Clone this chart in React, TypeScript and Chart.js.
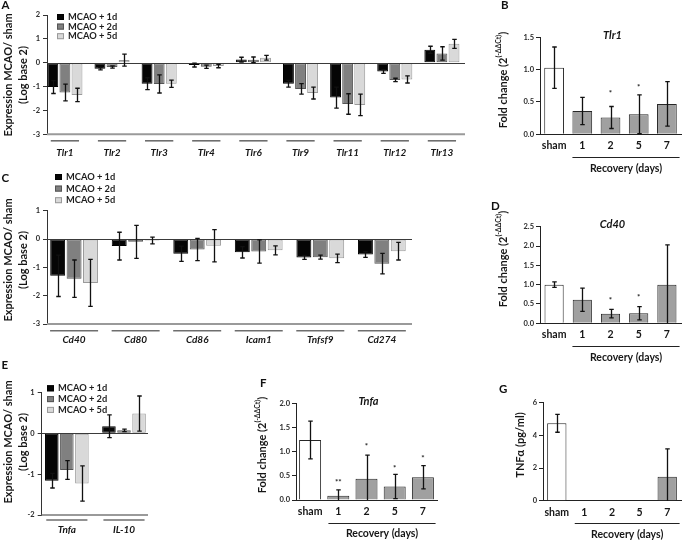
import React, { useEffect, useRef } from "react";
import { Chart, registerables } from "chart.js";
Chart.register(...registerables);

const FONT = "Lato, 'Open Sans', Arial, sans-serif";
const PAGE_W = 684;
const PAGE_H = 540;

// ---------- Panel A: TLR expression (log2 MCAO/sham) ----------
const tlrGenes = ["Tlr1", "Tlr2", "Tlr3", "Tlr4", "Tlr6", "Tlr9", "Tlr11", "Tlr12", "Tlr13"];
const tlr1d = [-1.02, -0.25, -0.88, -0.1, 0.13, -0.88, -1.46, -0.37, 0.54];
const tlr1dErr = [0.27, 0.05, 0.25, 0.08, 0.1, 0.14, 0.44, 0.08, 0.15];
const tlr2d = [-1.25, -0.18, -0.89, -0.17, 0.12, -1.1, -1.73, -0.72, 0.39];
const tlr2dErr = [0.35, 0.05, 0.38, 0.07, 0.12, 0.22, 0.43, 0.07, 0.28];
const tlr5d = [-1.35, 0.11, -0.88, -0.14, 0.21, -1.27, -1.77, -0.7, 0.79];
const tlr5dErr = [0.28, 0.25, 0.15, 0.07, 0.1, 0.25, 0.45, 0.15, 0.19];

// ---------- Panel C: co-stimulatory genes ----------
const cdGenes = ["Cd40", "Cd80", "Cd86", "Icam1", "Tnfsf9", "Cd274"];
const cd1d = [-1.3, -0.25, -0.52, -0.47, -0.65, -0.55];
const cd1dErr = [0.73, 0.49, 0.27, 0.2, 0.07, 0.1];
const cd2d = [-1.4, -0.1, -0.37, -0.44, -0.64, -0.87];
const cd2dErr = [0.66, 0.58, 0.39, 0.41, 0.07, 0.36];
const cd5d = [-1.55, -0.05, -0.24, -0.4, -0.68, -0.43];
const cd5dErr = [0.83, 0.12, 0.57, 0.16, 0.15, 0.31];

// ---------- Panel E: cytokines ----------
const cytoGenes = ["Tnfa", "IL-10"];
const cyto1d = [-1.16, 0.17];
const cyto1dErr = [0.18, 0.28];
const cyto2d = [-0.9, 0.07];
const cyto2dErr = [0.23, 0.03];
const cyto5d = [-1.23, 0.48];
const cyto5dErr = [0.43, 0.43];

const seriesLabels = ["MCAO + 1d", "MCAO + 2d", "MCAO + 5d"];

// ---------- Fold-change panels ----------
const recoveryDays = ["sham", "1", "2", "5", "7"];

const tlr1Fold = [1.03, 0.36, 0.26, 0.31, 0.47];
const tlr1FoldErr = [0.32, 0.21, 0.17, 0.3, 0.345];
const tlr1Stars = ["", "", "*", "*", ""];
const tlr1StarY = [0, 0, 0.67, 0.76, 0];

const cd40Fold = [1.0, 0.61, 0.25, 0.26, 1.0];
const cd40FoldErr = [0.07, 0.3, 0.11, 0.17, 1.03];
const cd40Stars = ["", "", "*", "*", ""];
const cd40StarY = [0, 0, 0.64, 0.73, 0];

const tnfaFold = [1.24, 0.09, 0.44, 0.28, 0.47];
const tnfaFoldErr = [0.39, 0.12, 0.49, 0.25, 0.24];
const tnfaStars = ["", "**", "*", "*", "*"];
const tnfaStarY = [0, 0.41, 1.14, 0.7, 0.91];

const tnfProtein = [4.74, 0, 0, 0, 1.47];
const tnfProteinErr = [0.55, 0, 0, 0, 1.7];

// ---------- helpers ----------
type Box = { L: number; R: number; T: number; B: number };
type Seg = { t: string; sup?: boolean };

function drawRotated(ctx: CanvasRenderingContext2D, x: number, y: number, segs: Seg[], size: number) {
  ctx.save();
  ctx.translate(x, y);
  ctx.rotate(-Math.PI / 2);
  const main = `bold ${size}px ${FONT}`;
  const sub = `bold ${size * 0.62}px ${FONT}`;
  let total = 0;
  for (const s of segs) {
    ctx.font = s.sup ? sub : main;
    total += ctx.measureText(s.t).width;
  }
  let cx = -total / 2;
  ctx.textBaseline = "middle";
  ctx.textAlign = "left";
  ctx.fillStyle = "#161616";
  for (const s of segs) {
    ctx.font = s.sup ? sub : main;
    ctx.fillText(s.t, cx, s.sup ? -size * 0.38 : 0);
    cx += ctx.measureText(s.t).width;
  }
  ctx.restore();
}

function drawLetter(ctx: CanvasRenderingContext2D, t: string, x: number, y: number) {
  ctx.save();
  ctx.font = `bold 11.5px ${FONT}`;
  ctx.fillStyle = "#111";
  ctx.textAlign = "left";
  ctx.textBaseline = "alphabetic";
  ctx.fillText(t, x, y);
  ctx.restore();
}

const errorBarPlugin = {
  id: "errorBars",
  afterDatasetsDraw(chart: any) {
    const ctx = chart.ctx as CanvasRenderingContext2D;
    const yScale = chart.scales.y;
    const cap = 4.5;
    chart.data.datasets.forEach((ds: any, di: number) => {
      const errs: number[] | undefined = ds.errors;
      if (!errs) return;
      const meta = chart.getDatasetMeta(di);
      meta.data.forEach((bar: any, i: number) => {
        const e = errs[i];
        if (!e) return;
        const raw = ds.data[i];
        const v = typeof raw === "object" ? raw.y : raw;
        const lo = Math.max(v - e, yScale.min);
        const hi = Math.min(v + e, yScale.max);
        const x = Math.round(bar.x) + 0.5;
        const y1 = yScale.getPixelForValue(hi);
        const y2 = yScale.getPixelForValue(lo);
        ctx.save();
        ctx.strokeStyle = "#111";
        ctx.lineWidth = 1.3;
        ctx.beginPath();
        ctx.moveTo(x, y1);
        ctx.lineTo(x, y2);
        ctx.moveTo(x - cap / 2, y1);
        ctx.lineTo(x + cap / 2, y1);
        if (v - e > yScale.min) {
          ctx.moveTo(x - cap / 2, y2);
          ctx.lineTo(x + cap / 2, y2);
        }
        ctx.stroke();
        ctx.restore();
      });
      if (ds.stars) {
        meta.data.forEach((bar: any, i: number) => {
          const s = ds.stars[i];
          if (!s) return;
          ctx.save();
          ctx.font = `bold 8px ${FONT}`;
          ctx.fillStyle = "#222";
          ctx.textAlign = "center";
          ctx.textBaseline = "middle";
          ctx.fillText(s, bar.x, yScale.getPixelForValue(ds.starY[i]) + 2);
          ctx.restore();
        });
      }
    });
  },
};

type GroupedCfg = {
  box: Box;
  labels: string[];
  series: { data: number[]; err: number[] }[];
  yMin: number;
  yMax: number;
  xMin: number;
  xMax: number;
  catPct: number;
  barPct: number;
  segFrac: number;
  labelDy: number;
  segDy: number;
  legend: { x: number; y: number; dy: number };
  ytitle: { x1: number; x2: number; y: number };
  letter: { t: string; x: number; y: number };
};

const groupFill = ["#050505", "#808080", "#d9d9d9"];
const groupBorder = ["#000000", "#555555", "#9a9a9a"];

function groupedConfig(c: GroupedCfg): any {
  const yW = 30;
  const deco = {
    id: "decoGrouped",
    beforeDatasetsDraw(chart: any) {
      const ctx = chart.ctx as CanvasRenderingContext2D;
      const a = chart.chartArea;
      ctx.save();
      ctx.strokeStyle = "#9a9a9a";
      ctx.lineWidth = 2;
      ctx.beginPath();
      ctx.moveTo(a.left, a.bottom);
      ctx.lineTo(a.right, a.bottom);
      ctx.stroke();
      ctx.restore();
    },
    afterDatasetsDraw(chart: any) {
      const ctx = chart.ctx as CanvasRenderingContext2D;
      const a = chart.chartArea;
      const y = chart.scales.y;
      const y0 = y.getPixelForValue(0);
      ctx.save();
      ctx.strokeStyle = "#3a3a3a";
      ctx.lineWidth = 1;
      ctx.beginPath();
      ctx.moveTo(a.left, Math.round(y0) + 0.5);
      ctx.lineTo(a.right, Math.round(y0) + 0.5);
      ctx.stroke();
      ctx.restore();
    },
    afterDraw(chart: any) {
      const ctx = chart.ctx as CanvasRenderingContext2D;
      const a = chart.chartArea;
      const x = chart.scales.x;
      const unit = x.getPixelForValue(1) - x.getPixelForValue(0);
      ctx.save();
      c.labels.forEach((lab, i) => {
        const cx = x.getPixelForValue(i);
        ctx.strokeStyle = "#6e6e6e";
        ctx.lineWidth = 1.6;
        ctx.beginPath();
        ctx.moveTo(cx - (unit * c.segFrac) / 2, a.bottom + c.segDy);
        ctx.lineTo(cx + (unit * c.segFrac) / 2, a.bottom + c.segDy);
        ctx.stroke();
        ctx.font = `italic bold 10px ${FONT}`;
        ctx.fillStyle = "#161616";
        ctx.textAlign = "center";
        ctx.textBaseline = "middle";
        ctx.fillText(lab, cx, a.bottom + c.labelDy);
      });
      chart.data.datasets.forEach((ds: any, i: number) => {
        const ly = c.legend.y + i * c.legend.dy;
        ctx.fillStyle = ds.backgroundColor;
        ctx.strokeStyle = ds.borderColor;
        ctx.lineWidth = 1;
        ctx.fillRect(c.legend.x, ly - 3, 7, 6);
        ctx.strokeRect(c.legend.x + 0.5, ly - 2.5, 6, 5);
        ctx.font = `bold 9.3px ${FONT}`;
        ctx.fillStyle = "#1e1e1e";
        ctx.textAlign = "left";
        ctx.textBaseline = "middle";
        ctx.fillText(ds.label, c.legend.x + 11, ly);
      });
      ctx.restore();
      drawRotated(ctx, c.ytitle.x1, c.ytitle.y, [{ t: "Expression MCAO/ sham" }], 11);
      drawRotated(ctx, c.ytitle.x2, c.ytitle.y, [{ t: "(Log base 2)" }], 11);
      drawLetter(ctx, c.letter.t, c.letter.x, c.letter.y);
    },
  };
  return {
    type: "bar",
    data: {
      datasets: c.series.map((s, i) => ({
        label: seriesLabels[i],
        data: s.data.map((v, k) => ({ x: k, y: v })),
        errors: s.err,
        backgroundColor: groupFill[i],
        borderColor: groupBorder[i],
        borderWidth: 1,
        borderSkipped: false,
        categoryPercentage: c.catPct,
        barPercentage: c.barPct,
      })),
    },
    options: {
      responsive: false,
      animation: false,
      devicePixelRatio: 1,
      events: [],
      layout: {
        autoPadding: false,
        padding: { left: c.box.L - yW, right: PAGE_W - c.box.R, top: c.box.T, bottom: PAGE_H - c.box.B },
      },
      plugins: { legend: { display: false }, tooltip: { enabled: false }, title: { display: false } },
      scales: {
        x: {
          type: "linear",
          display: false,
          offset: false,
          min: c.xMin,
          max: c.xMax,
          grid: { offset: false },
          ticks: { stepSize: 1, includeBounds: false },
        },
        y: {
          min: c.yMin,
          max: c.yMax,
          afterFit: (s: any) => {
            s.width = yW;
          },
          border: { display: true, color: "#333", width: 1 },
          grid: { display: true, drawOnChartArea: false, drawTicks: true, tickLength: 4, color: "#333" },
          ticks: { stepSize: 1, padding: 3, color: "#2a2a2a", font: { size: 7.5, weight: "bold", family: FONT } },
        },
      },
    },
    plugins: [deco, errorBarPlugin],
  };
}

type FoldCfg = {
  box: Box;
  values: number[];
  err: number[];
  stars?: string[];
  starY?: number[];
  yMax: number;
  step: number;
  decimals: number;
  pct: number;
  title?: string;
  ytitle: { segs: Seg[]; x: number; y: number };
  letter: { t: string; x: number; y: number };
};

function foldConfig(c: FoldCfg): any {
  const yW = 30;
  const xH = 16;
  const deco = {
    id: "decoFold",
    afterDraw(chart: any) {
      const ctx = chart.ctx as CanvasRenderingContext2D;
      const a = chart.chartArea;
      const x = chart.scales.x;
      const cw = x.getPixelForValue(1) - x.getPixelForValue(0);
      const x1 = x.getPixelForValue(1) - 0.35 * cw;
      const x2 = x.getPixelForValue(4) + 0.45 * cw;
      ctx.save();
      ctx.font = `bold 10.5px ${FONT}`;
      ctx.fillStyle = "#161616";
      ctx.textAlign = "center";
      ctx.textBaseline = "middle";
      recoveryDays.forEach((lab, i) => {
        ctx.fillText(lab, x.getPixelForValue(i), a.bottom + 11.7);
      });
      ctx.strokeStyle = "#222";
      ctx.lineWidth = 1;
      ctx.beginPath();
      ctx.moveTo(x1, Math.round(a.bottom + 22.5) + 0.5);
      ctx.lineTo(x2, Math.round(a.bottom + 22.5) + 0.5);
      ctx.stroke();
      ctx.font = `bold 10.5px ${FONT}`;
      ctx.fillText("Recovery (days)", (x1 + x2) / 2, a.bottom + 34);
      if (c.title) {
        ctx.font = `italic bold 11px ${FONT}`;
        ctx.fillText(c.title, (a.left + a.right) / 2 + 2, a.top - 2);
      }
      ctx.restore();
      drawRotated(ctx, c.ytitle.x, c.ytitle.y, c.ytitle.segs, 11);
      drawLetter(ctx, c.letter.t, c.letter.x, c.letter.y);
    },
  };
  return {
    type: "bar",
    data: {
      labels: recoveryDays,
      datasets: [
        {
          data: c.values,
          errors: c.err,
          stars: c.stars,
          starY: c.starY,
          backgroundColor: c.values.map((_, i) => (i === 0 ? "#ffffff" : "#a0a0a0")),
          borderColor: "#262626",
          borderWidth: 1,
          categoryPercentage: 1,
          barPercentage: c.pct,
        },
      ],
    },
    options: {
      responsive: false,
      animation: false,
      devicePixelRatio: 1,
      events: [],
      layout: {
        autoPadding: false,
        padding: { left: c.box.L - yW, right: PAGE_W - c.box.R, top: c.box.T, bottom: PAGE_H - c.box.B - xH },
      },
      plugins: { legend: { display: false }, tooltip: { enabled: false }, title: { display: false } },
      scales: {
        x: {
          type: "category",
          afterFit: (s: any) => {
            s.height = xH;
          },
          border: { display: true, color: "#222", width: 1 },
          grid: { display: false, drawTicks: false },
          ticks: { display: false },
        },
        y: {
          min: 0,
          max: c.yMax,
          afterFit: (s: any) => {
            s.width = yW;
          },
          border: { display: true, color: "#222", width: 1 },
          grid: { display: true, drawOnChartArea: false, drawTicks: true, tickLength: 4, color: "#222" },
          ticks: {
            stepSize: c.step,
            padding: 2,
            color: "#2a2a2a",
            font: { size: 7.5, weight: "bold", family: FONT },
            callback: (v: any) => Number(v).toFixed(c.decimals),
          },
        },
      },
    },
    plugins: [deco, errorBarPlugin],
  };
}

const foldTitle: Seg[] = [{ t: "Fold change (2" }, { t: "(-ΔΔCt)", sup: true }, { t: ")" }];

function buildConfigs(): any[] {
  return [
    groupedConfig({
      box: { L: 47, R: 465, T: 15, B: 134.3 },
      labels: tlrGenes,
      series: [
        { data: tlr1d, err: tlr1dErr },
        { data: tlr2d, err: tlr2dErr },
        { data: tlr5d, err: tlr5dErr },
      ],
      yMin: -3,
      yMax: 2,
      xMin: -0.38,
      xMax: 8.49,
      catPct: 0.77,
      barPct: 0.9,
      segFrac: 0.6,
      labelDy: 18.5,
      segDy: 6.5,
      legend: { x: 57, y: 17, dy: 9.6 },
      ytitle: { x1: 8, x2: 23, y: 75 },
      letter: { t: "A", x: 1.5, y: 8.5 },
    }),
    groupedConfig({
      box: { L: 47, R: 412, T: 210.7, B: 324 },
      labels: cdGenes,
      series: [
        { data: cd1d, err: cd1dErr },
        { data: cd2d, err: cd2dErr },
        { data: cd5d, err: cd5dErr },
      ],
      yMin: -3,
      yMax: 1,
      xMin: -0.44,
      xMax: 5.49,
      catPct: 0.8,
      barPct: 0.91,
      segFrac: 0.78,
      labelDy: 16,
      segDy: 6.7,
      legend: { x: 55, y: 177, dy: 11.6 },
      ytitle: { x1: 8, x2: 23, y: 260 },
      letter: { t: "C", x: 1.5, y: 182 },
    }),
    groupedConfig({
      box: { L: 41.7, R: 148, T: 392.3, B: 515 },
      labels: cytoGenes,
      series: [
        { data: cyto1d, err: cyto1dErr },
        { data: cyto2d, err: cyto2dErr },
        { data: cyto5d, err: cyto5dErr },
      ],
      yMin: -2,
      yMax: 1,
      xMin: -0.44,
      xMax: 1.42,
      catPct: 0.79,
      barPct: 0.9,
      segFrac: 0.72,
      labelDy: 14.3,
      segDy: 5,
      legend: { x: 47, y: 388.3, dy: 10.8 },
      ytitle: { x1: 8, x2: 23, y: 442 },
      letter: { t: "E", x: 1.5, y: 369 },
    }),
    foldConfig({
      box: { L: 540, R: 681, T: 37.3, B: 134.3 },
      values: tlr1Fold,
      err: tlr1FoldErr,
      stars: tlr1Stars,
      starY: tlr1StarY,
      yMax: 1.5,
      step: 0.5,
      decimals: 1,
      pct: 0.7,
      title: "Tlr1",
      ytitle: { segs: foldTitle, x: 503, y: 80 },
      letter: { t: "B", x: 501, y: 9.3 },
    }),
    foldConfig({
      box: { L: 540, R: 681, T: 226.7, B: 323.3 },
      values: cd40Fold,
      err: cd40FoldErr,
      stars: cd40Stars,
      starY: cd40StarY,
      yMax: 2.5,
      step: 0.5,
      decimals: 1,
      pct: 0.68,
      title: "Cd40",
      ytitle: { segs: foldTitle, x: 503, y: 259 },
      letter: { t: "D", x: 491, y: 210 },
    }),
    foldConfig({
      box: { L: 296, R: 437, T: 403.3, B: 500 },
      values: tnfaFold,
      err: tnfaFoldErr,
      stars: tnfaStars,
      starY: tnfaStarY,
      yMax: 2.0,
      step: 0.5,
      decimals: 1,
      pct: 0.78,
      title: "Tnfa",
      ytitle: { segs: foldTitle, x: 262, y: 445 },
      letter: { t: "F", x: 260, y: 386.7 },
    }),
    foldConfig({
      box: { L: 543, R: 681, T: 402.7, B: 500.7 },
      values: tnfProtein,
      err: tnfProteinErr,
      yMax: 6,
      step: 2,
      decimals: 0,
      pct: 0.7,
      ytitle: { segs: [{ t: "TNFα (pg/ml)" }], x: 520, y: 445 },
      letter: { t: "G", x: 499, y: 392.7 },
    }),
  ];
}

export default function App() {
  const r0 = useRef<HTMLCanvasElement>(null);
  const r1 = useRef<HTMLCanvasElement>(null);
  const r2 = useRef<HTMLCanvasElement>(null);
  const r3 = useRef<HTMLCanvasElement>(null);
  const r4 = useRef<HTMLCanvasElement>(null);
  const r5 = useRef<HTMLCanvasElement>(null);
  const r6 = useRef<HTMLCanvasElement>(null);
  const refs = [r0, r1, r2, r3, r4, r5, r6];

  useEffect(() => {
    Chart.defaults.font.family = FONT;
    const cfgs = buildConfigs();
    const charts = cfgs.map((cfg, i) => new Chart(refs[i].current as HTMLCanvasElement, cfg));
    return () => charts.forEach((c) => c.destroy());
  }, []);

  return (
    <div style={{ position: "fixed", left: 0, top: 0, width: PAGE_W, height: PAGE_H, background: "#fff" }}>
      {refs.map((r, i) => (
        <canvas
          key={i}
          ref={r}
          width={PAGE_W}
          height={PAGE_H}
          style={{ position: "absolute", left: 0, top: 0, width: PAGE_W, height: PAGE_H }}
        />
      ))}
    </div>
  );
}
